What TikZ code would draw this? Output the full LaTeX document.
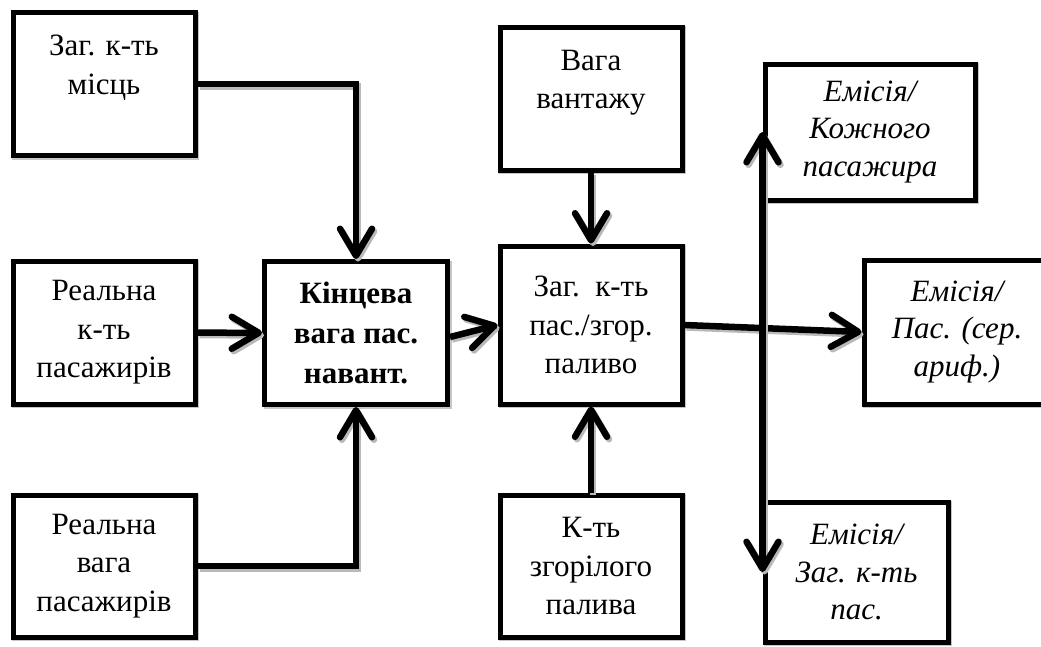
\documentclass[tikz,border=0pt]{standalone}
\usepackage{fontspec}
\setmainfont{Liberation Serif}
\usetikzlibrary{arrows.meta,shadows}

\begin{document}
\begin{tikzpicture}[x=1pt,y=-1pt,->,>={Straight Barb[length=27pt,width=32pt,round]},
line width=6.5pt,
main node/.style={rectangle,draw,fill=white,line width=5pt,inner sep=0pt,align=center,
  font=\fontsize{31}{38.5}\selectfont,
  drop shadow={shadow xshift=1.5pt,shadow yshift=-1.5pt,fill=gray!45,draw=gray!45,opacity=1}},
out node/.style={main node,font=\fontsize{31}{37.5}\selectfont\itshape},
shadowed/.style={preaction={draw=gray!55,transform canvas={shift={(2pt,-2.5pt)}}}}]
\useasboundingbox (0,0) rectangle (1041,646);

% left column
  \node[main node,minimum width=182,minimum height=143] (seats) at (104,84) {Заг. к-ть\\місць\\\mbox{}};
  \node[main node,minimum width=182,minimum height=143] (realn) at (104,332.5) {Реальна\\к-ть\\пасажирів};
  \node[main node,minimum width=182,minimum height=142] (realw) at (104,566) {Реальна\\вага\\пасажирів};

% final load
  \node[main node,minimum width=183,minimum height=143,font=\fontsize{31}{40}\selectfont\bfseries] (load) at (356,333) {Кінцева\\вага пас.\\навант.};

% middle column
  \node[main node,minimum width=182,minimum height=143] (cargo) at (591,98.5) {Вага\\вантажу\\\mbox{}};
  \node[main node,minimum width=182,minimum height=158] (ratio) at (591,325) {Заг.\ \ к-ть\\пас./згор.\\паливо};
  \node[main node,minimum width=182,minimum height=142] (fuel) at (591,566) {К-ть\\згорілого\\палива};

% emission boxes
  \node[out node,minimum width=210,minimum height=136] (each) at (870,132) {Емісія/\\Кожного\\пасажира};
  \node[out node,minimum width=186,minimum height=144] (mean) at (957,332) {Емісія/\\Пас. (сер.\\ариф.)};
  \node[out node,minimum width=183,minimum height=140] (total) at (856.5,572) {Емісія/\\Заг. к-ть\\пас.};

  \draw[shadowed] (seats) -| (load);
  \draw[shadowed] (realw) -| (load);

  \path[every edge/.append style={shadowed}]
    (realn) edge (load)
    ([yshift=-4pt]load.east) edge (ratio.west)
    (cargo) edge (ratio)
    (fuel) edge (ratio)
    (ratio.east) edge (mean.west);

% split to the emission boxes
  \coordinate (split) at (each.west |- ratio.east);
  \draw[shadowed] (split) -- (each.west);
  \draw[shadowed] (split) -- (total.west);

\end{tikzpicture}
\end{document}
